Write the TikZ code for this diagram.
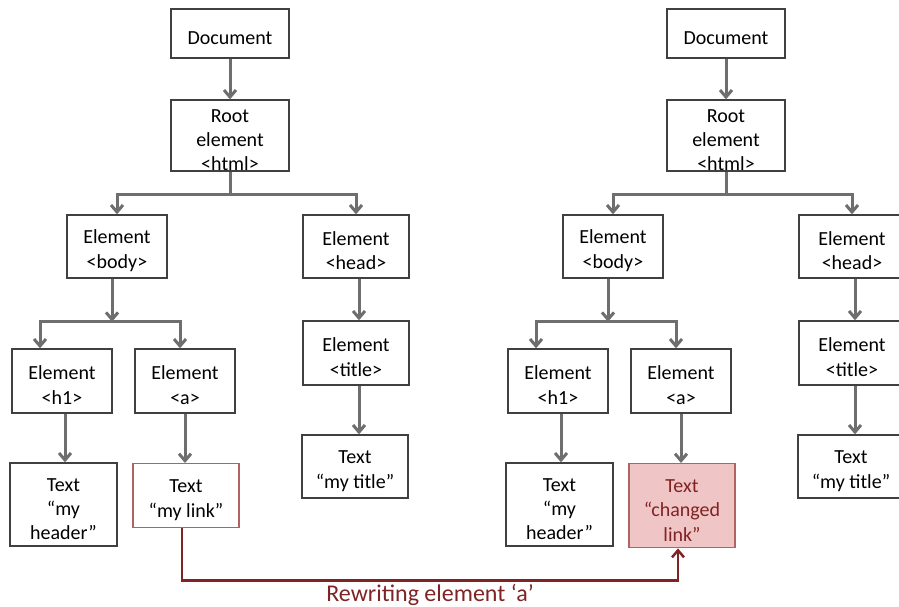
\documentclass[tikz,border=0pt]{standalone}
\usepackage{fontspec}
\setmainfont{Carlito}
\usetikzlibrary{arrows.meta}
\definecolor{boxline}{HTML}{404040}
\definecolor{treegray}{HTML}{6E6E6E}
\definecolor{rewrite}{HTML}{7F2424}
\definecolor{changedfill}{HTML}{F0C5C5}
\definecolor{changedline}{HTML}{B36262}
% extra room above the first line, text sits a bit low in the boxes
\newcommand{\pad}{\rule{0pt}{11pt}}

\begin{document}
\begin{tikzpicture}[
    x=0.5pt, y=-0.5pt, font=\fontsize{10}{12.2}\selectfont,
    elem/.style={draw=boxline, line width=0.7pt, align=center, inner sep=0, minimum width=50pt, minimum height=32pt},
    wide/.style={minimum width=53pt},
    child/.style={draw=treegray, line width=1.5pt, -{Straight Barb[length=3.5pt, width=6pt]}},
    oldlink/.style={elem, wide, draw=changedline},
    newlink/.style={elem, wide, minimum height=42pt, draw=changedline, fill=changedfill, text=rewrite},
  ]
  \clip (0,0) rectangle (899,606);

  % the same tree twice, only the <a> text differs
  \foreach \t/\dx/\linkstyle/\linktext in {L/0/oldlink/{\pad Text\\“my link”}, R/496/newlink/{\pad Text\\“changed\\link”}} {
    \begin{scope}[shift={(\dx,0)}, name prefix/.expanded=\t-]
      \node[elem, minimum width=59pt, minimum height=24.5pt] (doc) at (230,33.5) {\pad Document};
      \node[elem, minimum width=59pt, minimum height=34.5pt] (root) at (230,135.5) {\pad Root\\element\\<html>};
      \node[elem, minimum height=31.5pt] (body) at (117,246.5) {\pad Element\\<body>};
      \node[elem, wide, minimum height=31.5pt] (head) at (356,246.5) {\pad Element\\<head>};
      \node[elem] (h1) at (62,381) {\pad Element\\<h1>};
      \node[elem] (a) at (185,381) {\pad Element\\<a>};
      \node[elem, wide] (title) at (356,353) {\pad Element\\<title>};
      \node[elem, minimum width=53.5pt, minimum height=41.5pt] (txh1) at (63.5,504.5) {\pad Text\\“my\\header”};
      \node[\linkstyle, anchor=north] (link) at (186,463) {\linktext};
      \node[elem, wide, minimum height=31.5pt] (txtitle) at (355,466.5) {\pad Text\\“my title”};

      \draw[child] (doc) -- (root);
      \draw[treegray, line width=1.5pt] (root.south) -- ++(0,23) coordinate (fork);
      \draw[child] (fork) -| (body.north);
      \draw[child] (fork) -| (head.north);
      \draw[child] ([xshift=-2.5pt]body.south) -- ++(0,43) coordinate (split);
      \draw[child] (split) -| ([xshift=-11pt]h1.north);
      \draw[child] (split) -| ([xshift=-2.5pt]a.north);
      \draw[child] ([xshift=1.5pt]h1.south) -- ([xshift=1.5pt]h1.south |- txh1.north);
      \draw[child] (a.south) -- (a.south |- link.north);
      \draw[child] ([xshift=1.5pt]head.south) -- ([xshift=1.5pt]head.south |- title.north);
      \draw[child] ([xshift=1.5pt]title.south) -- ([xshift=1.5pt]title.south |- txtitle.north);
    \end{scope}
  }

  \draw[rewrite, line width=1.25pt, -{Straight Barb[length=3.5pt, width=6pt]}]
    ([xshift=-2pt]L-link.south) -- ++(0,52)
    -| node[pos=0.25, anchor=base, yshift=-10.5pt, text=rewrite, font=\fontsize{12}{14}\selectfont] {Rewriting element ‘a’}
    ([xshift=-2pt]R-link.south);

\end{tikzpicture}
\end{document}
